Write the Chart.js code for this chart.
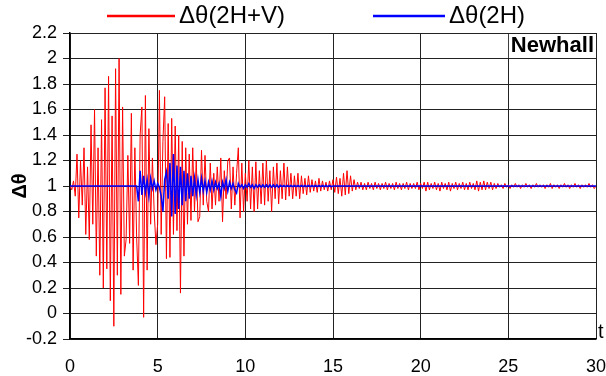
<!DOCTYPE html>
<html>
<head>
<meta charset="utf-8">
<script src="https://cdn.jsdelivr.net/npm/chart.js@4.4.1/dist/chart.umd.min.js"></script>
<style>
  html, body { margin: 0; padding: 0; background: #fff; }
  #wrap { width: 606px; height: 376px; }
</style>
</head>
<body>
<div id="wrap"><canvas id="grafico"></canvas></div>
<script>
// sample step (s)
const dt = 0.1;

const seriesNames = ['\u0394\u03b8(2H+V)', '\u0394\u03b8(2H)'];
const stationName = 'Newhall';
const xTicks = [0, 5, 10, 15, 20, 25, 30];
const yTicks = [-0.2, 0, 0.2, 0.4, 0.6, 0.8, 1, 1.2, 1.4, 1.6, 1.8, 2, 2.2];

// Δθ(2H+V), one row per second
const rojo = [
    1.00, 0.97, 1.04, 0.92, 1.25, 0.75, 1.20, 0.85, 1.30, 0.62,
    1.15, 0.58, 1.48, 0.70, 1.60, 0.45, 1.30, 0.30, 1.52, 0.20,
    1.77, 0.35, 1.86, 0.10, 1.55, -0.10, 1.92, 0.30, 2.00, 0.15,
    1.62, 0.45, 0.58, 1.24, 0.55, 1.57, 0.34, 1.30, 0.60, 0.22,
    1.40, 1.62, -0.03, 1.71, 0.34, 1.45, 0.70, 1.22, 0.80, 0.54,
    0.70, 1.75, 0.62, 1.35, 1.70, 0.43, 1.49, 0.44, 1.53, 0.62,
    1.47, 0.65, 1.40, 0.16, 1.35, 0.45, 1.30, 0.70, 1.25, 0.73,
    1.30, 0.80, 1.20, 0.72, 0.76, 1.28, 0.85, 1.24, 0.88, 0.80,
    1.18, 0.82, 1.10, 0.85, 1.15, 0.88, 1.22, 0.72, 1.12, 0.90,
    1.20, 1.22, 0.82, 1.15, 0.85, 1.10, 1.30, 0.75, 1.18, 0.80,
    1.10, 0.88, 1.20, 0.82, 1.15, 0.80, 1.19, 0.82, 1.12, 0.86,
    1.18, 0.85, 1.20, 0.88, 1.12, 0.80, 1.15, 0.90, 1.18, 0.86,
    1.12, 0.90, 1.18, 0.89, 1.15, 0.92, 1.10, 0.90, 1.08, 0.92,
    1.10, 0.90, 1.08, 0.94, 1.06, 0.93, 1.08, 0.95, 1.05, 0.96,
    1.04, 0.95, 1.06, 0.96, 1.04, 0.97, 1.03, 0.96, 1.04, 0.97,
    1.05, 0.95, 1.07, 0.94, 1.06, 0.92, 1.10, 0.93, 1.12, 0.94,
    1.08, 0.96, 1.05, 0.97, 1.03, 0.98, 1.03, 0.97, 1.02, 0.97,
    1.03, 0.98, 1.02, 0.97, 1.03, 0.98, 1.02, 0.97, 1.02, 0.98,
    1.03, 0.97, 1.02, 0.98, 1.02, 0.97, 1.03, 0.98, 1.02, 0.97,
    1.02, 0.98, 1.03, 0.97, 1.02, 0.98, 1.02, 0.98, 1.03, 0.97,
    1.02, 0.98, 1.03, 0.96, 1.03, 0.97, 1.02, 0.98, 1.03, 0.97,
    1.02, 0.96, 1.03, 0.98, 1.02, 0.97, 1.03, 0.96, 1.02, 0.98,
    1.03, 0.97, 1.02, 0.98, 1.03, 0.97, 1.02, 0.97, 1.03, 0.98,
    1.02, 0.97, 1.04, 0.96, 1.03, 0.97, 1.04, 0.97, 1.03, 0.98,
    1.03, 0.97, 1.02, 0.98, 1.02, 0.99, 1.01, 0.98, 1.02, 0.99,
    1.01, 0.98, 1.01, 0.99, 1.02, 0.99, 1.01, 0.98, 1.01, 0.99,
    1.02, 0.99, 1.01, 0.98, 1.01, 0.99, 1.02, 0.99, 1.01, 0.99,
    1.01, 0.98, 1.01, 0.99, 1.02, 0.98, 1.01, 0.99, 1.01, 0.98,
    1.01, 0.99, 1.02, 0.99, 1.01, 0.98, 1.01, 0.99, 1.02, 0.99,
    1.01, 0.98, 1.01, 0.99, 1.01, 0.99, 1.02, 0.99, 1.01, 0.98,
    1.00
];

// Δθ(2H)
const azul = [
    1, 1, 1, 1, 1, 1, 1, 1, 1, 1,
    1, 1, 1, 1, 1, 1, 1, 1, 1, 1,
    1, 1, 1, 1, 1, 1, 1, 1, 1, 1,
    1, 1, 1, 1, 1, 1, 1, 1, 1, 0.88,
    1.12, 0.93, 1.08, 0.95, 1.05, 0.92, 1.06, 0.98, 1.04, 0.97,
    1.02, 0.99, 0.92, 0.80, 1.05, 1.11, 0.90, 1.18, 0.76, 1.25,
    0.78, 1.16, 0.82, 1.15, 0.85, 1.12, 0.88, 1.10, 0.90, 1.08,
    0.92, 1.06, 0.93, 1.05, 0.95, 1.06, 0.96, 1.04, 0.95, 1.03,
    0.97, 1.04, 0.97, 1.03, 0.98, 1.02, 0.92, 1.03, 0.98, 1.05,
    0.96, 1.03, 0.98, 1.02, 0.97, 0.945, 1.02, 0.99, 1.01, 0.98,
    1.01, 0.99, 1.02, 0.99, 1.01, 0.98, 1.01, 0.99, 1.01, 0.99,
    1.01, 0.99, 1.01, 0.99, 1.01, 0.99, 1.01, 0.99, 1.01, 0.99,
    1.005, 0.995, 1.005, 0.995, 1.005, 0.995, 1.005, 0.995, 1.005, 0.995,
    1.005, 0.995, 1.005, 0.995, 1.005, 0.995, 1.005, 0.995, 1.005, 0.995,
    1.005, 0.995, 1.005, 0.995, 1.005, 0.995, 1.005, 0.995, 1.005, 0.995,
    1, 1, 1, 1, 1, 1, 1, 1, 1, 1,
    1, 1, 1, 1, 1, 1, 1, 1, 1, 1,
    1, 1, 1, 1, 1, 1, 1, 1, 1, 1,
    1, 1, 1, 1, 1, 1, 1, 1, 1, 1,
    1, 1, 1, 1, 1, 1, 1, 1, 1, 1,
    1, 1, 1, 1, 1, 1, 1, 1, 1, 1,
    1, 1, 1, 1, 1, 1, 1, 1, 1, 1,
    1, 1, 1, 1, 1, 1, 1, 1, 1, 1,
    1, 1, 1, 1, 1, 1, 1, 1, 1, 1,
    1, 1, 1, 1, 1, 1, 1, 1, 1, 1,
    1, 1, 1, 1, 1, 1, 1, 1, 1, 1,
    1, 1, 1, 1, 1, 1, 1, 1, 1, 1,
    1, 1, 1, 1, 1, 1, 1, 1, 1, 1,
    1, 1, 1, 1, 1, 1, 1, 1, 1, 1,
    1, 1, 1, 1, 1, 1, 1, 1, 1, 1,
    1
];

const fuente = "'Liberation Sans', Arial, sans-serif";

const puntos = arr => arr.map((v, i) => ({ x: +(i * dt).toFixed(1), y: v }));

// legend drawn by hand (line sample + label), plus station box and "t"
const extras = {
    id: 'extras',
    afterDraw(chart) {
        const { ctx, chartArea } = chart;
        const ds = chart.data.datasets;
        const items = [
            { i: 0, x0: 107, x1: 175, tx: 179 },
            { i: 1, x0: 373, x1: 445, tx: 449 }
        ];
        ctx.save();
        ctx.font = '24px ' + fuente;
        ctx.textBaseline = 'middle';
        ctx.fillStyle = '#000';
        items.forEach(it => {
            ctx.strokeStyle = ds[it.i].borderColor;
            ctx.lineWidth = 2.5;
            ctx.beginPath();
            ctx.moveTo(it.x0, 16);
            ctx.lineTo(it.x1, 16);
            ctx.stroke();
            ctx.fillText(ds[it.i].label, it.tx, 16);
        });

        // station name
        ctx.font = 'bold 22px ' + fuente;
        const w = ctx.measureText(stationName).width;
        ctx.fillStyle = '#fff';
        ctx.fillRect(chartArea.right - w - 4, chartArea.top + 1, w + 3, 24);
        ctx.fillStyle = '#000';
        ctx.textAlign = 'right';
        ctx.fillText(stationName, chartArea.right - 2, chartArea.top + 13);

        ctx.font = '20px ' + fuente;
        ctx.textAlign = 'left';
        ctx.fillText('t', chartArea.right + 2, chartArea.bottom - 7);
        ctx.restore();
    }
};

const ctx = document.getElementById('grafico').getContext('2d');

new Chart(ctx, {
    type: 'line',
    data: {
        datasets: [{
            label: seriesNames[0],
            data: puntos(rojo),
            borderColor: '#ff0000',
            borderWidth: 1,
            pointRadius: 0,
            tension: 0,
            order: 2
        }, {
            label: seriesNames[1],
            data: puntos(azul),
            borderColor: '#0000ff',
            borderWidth: 1.5,
            pointRadius: 0,
            tension: 0,
            order: 1
        }]
    },
    options: {
        responsive: true,
        maintainAspectRatio: false,
        animation: false,
        events: [],
        layout: {
            padding: { top: 33, right: 0, left: 0, bottom: 0 }
        },
        plugins: {
            legend: { display: false },
            tooltip: { enabled: false }
        },
        scales: {
            x: {
                type: 'linear',
                min: 0,
                max: 30,
                afterBuildTicks: s => { s.ticks = xTicks.map(v => ({ value: v })); },
                afterFit: s => { s.height = 37; s.paddingRight = 10; s.paddingLeft = 0; },
                grid: {
                    color: '#222',
                    lineWidth: 1,
                    drawTicks: false
                },
                border: { color: '#000', width: 1.5 },
                ticks: {
                    color: '#000',
                    padding: 17,
                    maxRotation: 0,
                    font: { family: fuente, size: 18 }
                }
            },
            y: {
                min: -0.2,
                max: 2.2,
                afterBuildTicks: s => { s.ticks = yTicks.map(v => ({ value: v })); },
                afterFit: s => { s.width = 70; },
                grid: {
                    color: '#222',
                    lineWidth: 1,
                    tickLength: 7
                },
                border: { color: '#000', width: 1.5 },
                title: {
                    display: true,
                    text: '\u0394\u03b8',
                    color: '#000',
                    padding: { top: 8, bottom: 0 },
                    font: { family: fuente, size: 20, weight: 'bold' }
                },
                ticks: {
                    color: '#000',
                    padding: 6,
                    font: { family: fuente, size: 18 },
                    callback: v => String(Math.round(v * 10) / 10)
                }
            }
        }
    },
    plugins: [extras]
});
</script>
</body>
</html>
